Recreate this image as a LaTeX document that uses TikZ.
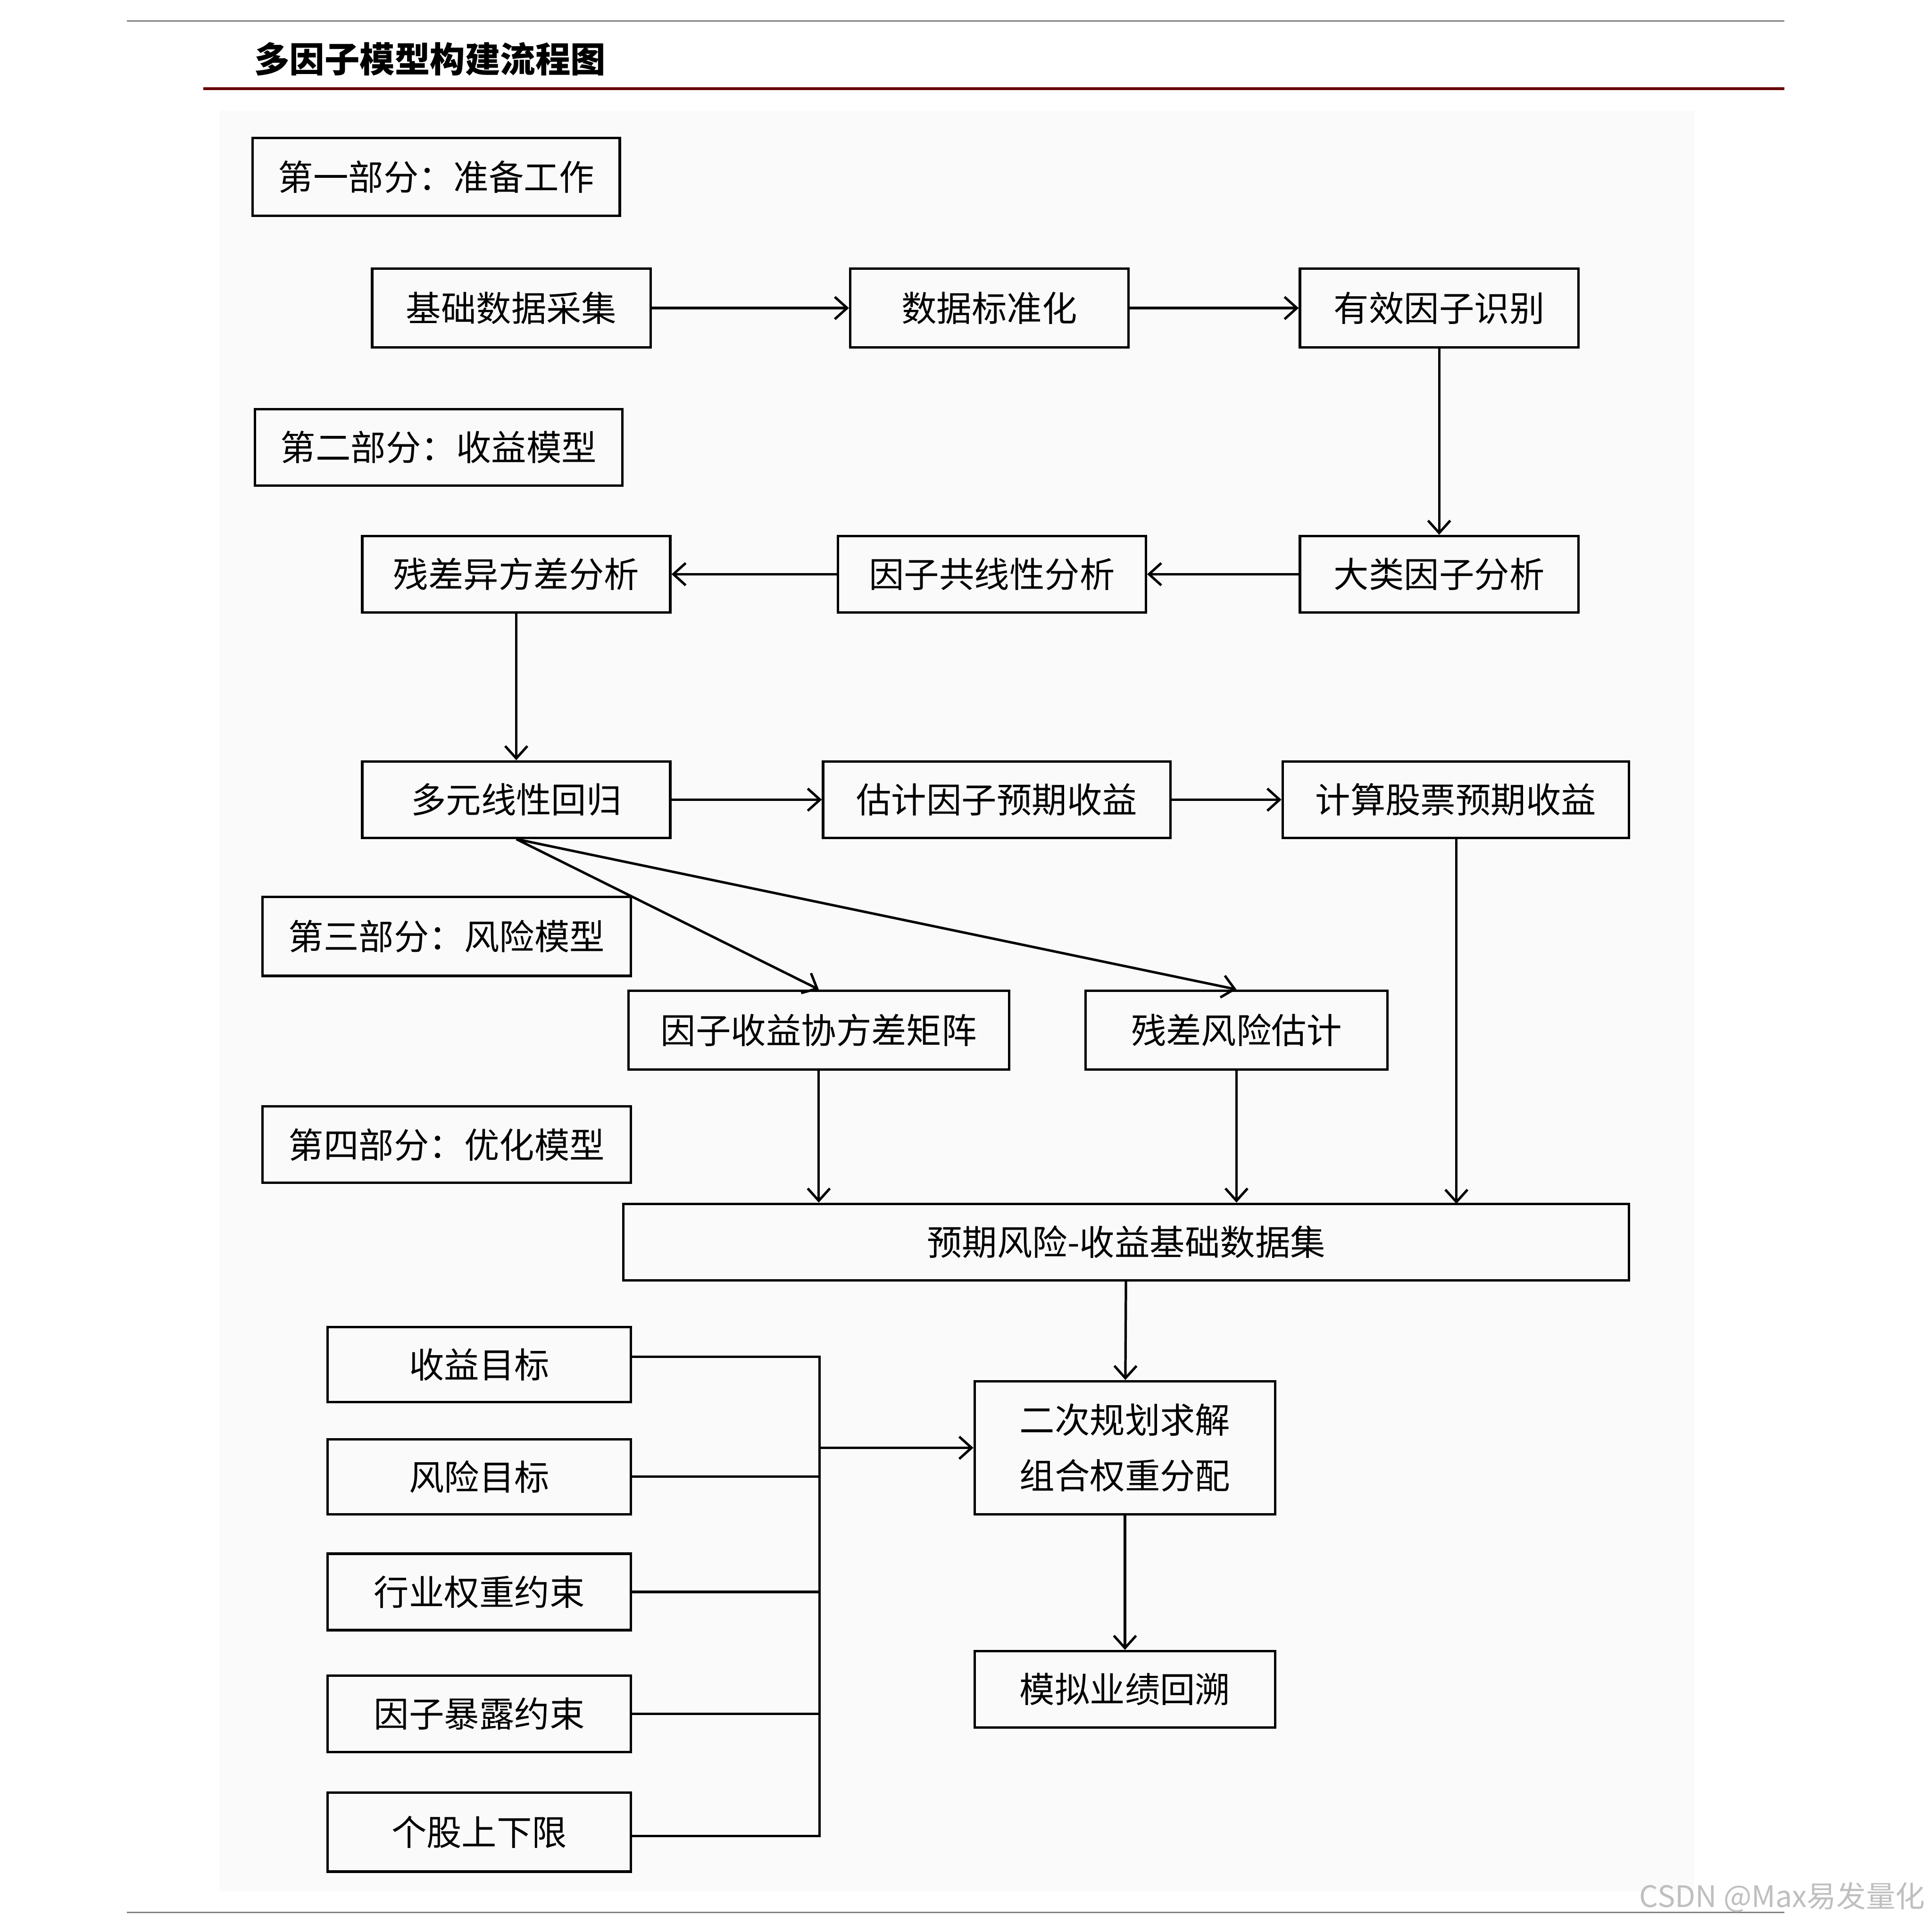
\documentclass[tikz,border=0pt]{standalone}
\usepackage{fontspec}
\setmainfont{Noto Sans CJK SC}
\usetikzlibrary{arrows.meta}
\begin{document}
\begin{tikzpicture}[x=1pt,y=-1pt,
  bx/.style={draw,line width=2pt,inner sep=0pt,font=\fontsize{28.5}{34}\selectfont},
  ar/.style={line width=2pt,-{Straight Barb[length=10pt,width=18pt,line width=2pt]}},
  ln/.style={line width=2pt}]
\useasboundingbox (0,0) rectangle (1568,1568);
\fill[black!2] (178,90) rectangle (1375,1535);
\draw[gray,line width=1pt] (103,17) -- (1448,17);
\node[anchor=west,font=\bfseries\fontsize{28.5}{32}\selectfont] (title) at (203,48) {多因子模型构建流程图};
\draw[red!40!black,line width=2pt] (165,72) -- (1448,72);
\draw[gray,line width=1pt] (103,1552) -- (1448,1552);
\node[anchor=east,text=black!25,font=\fontsize{24}{28}\selectfont] (wm) at (1566,1540) {CSDN @Max易发量化};
\newcommand\bxx[6]{\node[bx,minimum width=#4-#2,minimum height=#5-#3] (#1) at ({(#2+#4)/2},{(#3+#5)/2}) {#6};}
\bxx{P1}{205}{112}{503}{175}{第一部分：准备工作}
\bxx{A}{302}{218}{528}{282}{基础数据采集}
\bxx{B}{690}{218}{916}{282}{数据标准化}
\bxx{C}{1055}{218}{1281}{282}{有效因子识别}
\bxx{P2}{207}{332}{505}{394}{第二部分：收益模型}
\bxx{D}{294}{435}{544}{497}{残差异方差分析}
\bxx{E}{680}{435}{930}{497}{因子共线性分析}
\bxx{F}{1055}{435}{1281}{497}{大类因子分析}
\bxx{G}{294}{618}{544}{680}{多元线性回归}
\bxx{H}{668}{618}{950}{680}{估计因子预期收益}
\bxx{I}{1041}{618}{1322}{680}{计算股票预期收益}
\bxx{P3}{213}{728}{512}{792}{第三部分：风险模型}
\bxx{J}{510}{804}{819}{868}{因子收益协方差矩阵}
\bxx{K}{881}{804}{1126}{868}{残差风险估计}
\bxx{P4}{213}{898}{512}{960}{第四部分：优化模型}
\bxx{L}{506}{977}{1322}{1039}{预期风险-收益基础数据集}
\node[bx,minimum width=244,minimum height=108,align=center,font=\fontsize{28.5}{45}\selectfont] (M) at (913,1175) {二次规划求解\\组合权重分配};
\bxx{N}{791}{1340}{1035}{1402}{模拟业绩回溯}
\bxx{Q1}{266}{1077}{512}{1138}{收益目标}
\bxx{Q2}{266}{1168}{512}{1229}{风险目标}
\bxx{Q3}{266}{1261}{512}{1323}{行业权重约束}
\bxx{Q4}{266}{1360}{512}{1422}{因子暴露约束}
\bxx{Q5}{266}{1455}{512}{1519}{个股上下限}
\draw[ar] (A) -- (B);
\draw[ar] (B) -- (C);
\draw[ar] (C) -- (F);
\draw[ar] (F) -- (E);
\draw[ar] (E) -- (D);
\draw[ar] (D) -- (G);
\draw[ar] (G) -- (H);
\draw[ar] (H) -- (I);
\draw[ar] (G.south) -- (J.north);
\draw[ar] (G.south) -- (K.north);
\draw[ar] (J.south) -- (J.south|-L.north);
\draw[ar] (K.south) -- (K.south|-L.north);
\draw[ar] (I.south-|1182,0) -- (1182,977);
\draw[ar] (L) -- (M);
\draw[ar] (M) -- (N);
\coordinate (bt) at (665,1101);
\coordinate (bb) at (665,1490);
\coordinate (bm) at (665,1175);
\draw[ln] (Q1.east|-bt) -- (bt) -- (bb) -- (Q5.east|-bb);
\draw[ln] (Q2) -- (Q2-|bm);
\draw[ln] (Q3) -- (Q3-|bm);
\draw[ln] (Q4) -- (Q4-|bm);
\draw[ar] (bm) -- (M);
\end{tikzpicture}
\end{document}
